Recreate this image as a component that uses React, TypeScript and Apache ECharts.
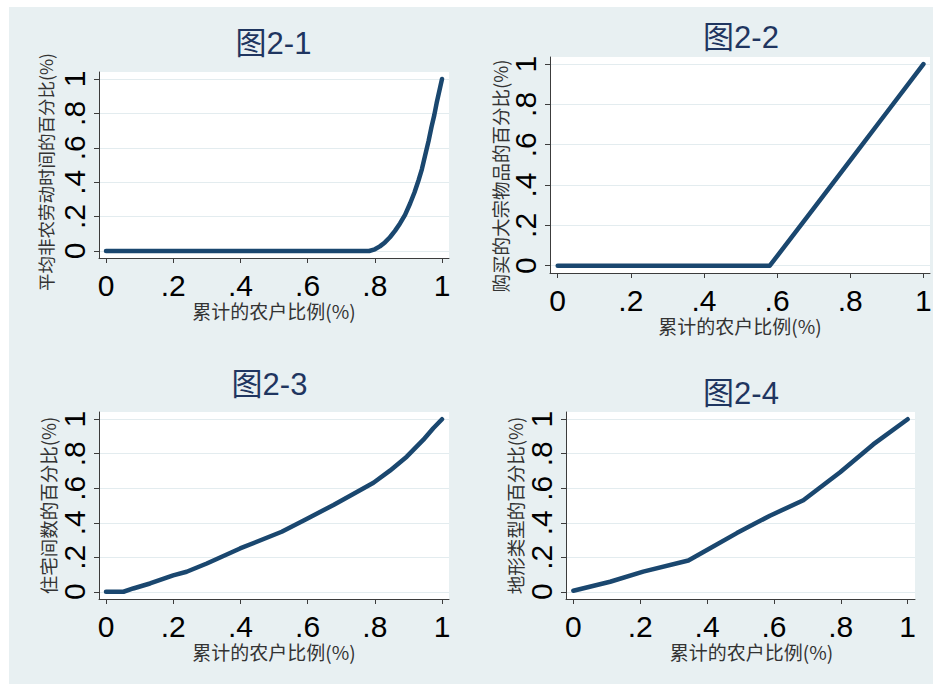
import React, { useEffect, useRef } from 'react';
import * as echarts from 'echarts';

// ---------- data ----------
const tickValues = [0, 0.2, 0.4, 0.6, 0.8, 1];
const tickLabels = ['0', '.2', '.4', '.6', '.8', '1'];
const xAxisTitle = '累计的农户比例(%)';

const titles = ['图2-1', '图2-2', '图2-3', '图2-4'];
const yAxisTitles = [
  '平均非农劳动时间的百分比(%)',
  '购买的大宗物品的百分比(%)',
  '住宅间数的百分比(%)',
  '地形类型的百分比(%)',
];

const fig1X = [0, 0.783, 0.8, 0.815, 0.83, 0.845, 0.86, 0.875, 0.89, 0.905, 0.918, 0.93, 0.94, 0.949, 0.96, 0.969, 0.977, 0.984, 0.992, 1];
const fig1Y = [0, 0, 0.01, 0.027, 0.05, 0.08, 0.117, 0.16, 0.21, 0.276, 0.34, 0.41, 0.475, 0.549, 0.64, 0.724, 0.79, 0.86, 0.93, 1];

const fig2X = [0, 0.58, 0.7, 0.8, 0.9, 1];
const fig2Y = [0, 0, 0.285, 0.522, 0.761, 1];

const fig3X = [0, 0.052, 0.081, 0.131, 0.2, 0.24, 0.3, 0.399, 0.523, 0.597, 0.677, 0.736, 0.796, 0.845, 0.895, 0.944, 0.974, 1];
const fig3Y = [0, 0, 0.019, 0.048, 0.095, 0.116, 0.164, 0.251, 0.348, 0.422, 0.503, 0.567, 0.632, 0.702, 0.783, 0.88, 0.948, 1];

const fig4X = [0, 0.11, 0.209, 0.344, 0.409, 0.489, 0.588, 0.688, 0.798, 0.897, 1];
const fig4Y = [0.006, 0.058, 0.117, 0.181, 0.252, 0.34, 0.441, 0.53, 0.693, 0.854, 1];

const seriesX = [fig1X, fig2X, fig3X, fig4X];
const seriesY = [fig1Y, fig2Y, fig3Y, fig4Y];

// ---------- layout ----------
const layouts = [
  { left: 99, top: 72, width: 350, height: 186, xMin: -0.0208, xMax: 1.0208, yMin: -0.0407, yMax: 1.0407, title: [273.5, 42], yNameSize: 17.5, yNameGap: 45, yNamePad: [0, 14, 0, 0], xNamePad: [0, 0, 0, 0] },
  { left: 550, top: 57, width: 380, height: 216, xMin: -0.021, xMax: 1.018, yMin: -0.036, yMax: 1.035, title: [741, 36], yNameSize: 18.5, yNameGap: 38, yNamePad: [0, 22, 0, 0], xNamePad: [0, 0, 0, 0] },
  { left: 99, top: 412, width: 350, height: 187, xMin: -0.0208, xMax: 1.0208, yMin: -0.042, yMax: 1.042, title: [269.5, 383], yNameSize: 18.5, yNameGap: 42, yNamePad: [0, 0, 0, 0], xNamePad: [0, 0, 0, 0] },
  { left: 566, top: 412, width: 349, height: 187, xMin: -0.022, xMax: 1.022, yMin: -0.042, yMax: 1.042, title: [741, 392], yNameSize: 18.5, yNameGap: 42, yNamePad: [0, 0, 0, 0], xNamePad: [0, 0, 0, 22] },
];

const AXIS_COLOR = '#3c3c3c';
const LINE_COLOR = '#1a476f';
const GRID_LINE = '#e3ecef';
const BG = '#e8f0f2';
const NUM_FONT = '"Liberation Sans", Arial, sans-serif';
const CJK_FONT = '"Noto Sans CJK SC", sans-serif';

function fmt(v: number): string {
  let best = 0;
  for (let i = 0; i < tickValues.length; i++) {
    if (Math.abs(tickValues[i] - v) < Math.abs(tickValues[best] - v)) best = i;
  }
  return tickLabels[best];
}

function buildOption() {
  const grid = layouts.map((l) => ({
    left: l.left,
    top: l.top,
    width: l.width,
    height: l.height,
    show: true,
    backgroundColor: '#ffffff',
    borderWidth: 0,
    containLabel: false,
    outerBoundsMode: 'none',
  }));

  const xAxis = layouts.map((l, i) => ({
    type: 'value',
    gridIndex: i,
    min: l.xMin,
    max: l.xMax,
    axisLine: { show: true, onZero: false, lineStyle: { color: AXIS_COLOR, width: 1 } },
    axisTick: { show: true, length: 5, customValues: tickValues, lineStyle: { color: AXIS_COLOR, width: 1 } },
    axisLabel: {
      customValues: tickValues,
      formatter: fmt,
      fontSize: 30,
      color: '#000',
      fontFamily: NUM_FONT,
      margin: 12,
    },
    splitLine: { show: false },
    name: xAxisTitle,
    nameLocation: 'middle',
    nameGap: 40,
    nameTextStyle: { fontSize: 19, color: '#333', fontFamily: CJK_FONT, padding: l.xNamePad },
  }));

  const yAxis = layouts.map((l, i) => ({
    type: 'value',
    gridIndex: i,
    min: l.yMin,
    max: l.yMax,
    axisLine: { show: true, onZero: false, lineStyle: { color: AXIS_COLOR, width: 1 } },
    axisTick: { show: true, length: 5, customValues: tickValues, lineStyle: { color: AXIS_COLOR, width: 1 } },
    axisLabel: {
      customValues: tickValues,
      formatter: fmt,
      fontSize: 30,
      color: '#000',
      fontFamily: NUM_FONT,
      rotate: 90,
      margin: 10,
    },
    splitLine: { show: true, lineStyle: { color: GRID_LINE, width: 1 } },
    name: yAxisTitles[i],
    nameLocation: 'middle',
    nameGap: l.yNameGap,
    nameTextStyle: { fontSize: l.yNameSize, color: '#333', fontFamily: CJK_FONT, padding: l.yNamePad },
  }));

  const series = layouts.map((_, i) => ({
    type: 'line',
    xAxisIndex: i,
    yAxisIndex: i,
    data: seriesX[i].map((x, k) => [x, seriesY[i][k]]),
    showSymbol: false,
    symbol: 'none',
    silent: true,
    lineStyle: { color: LINE_COLOR, width: 4.5, cap: 'round', join: 'round' },
  }));

  const graphic = layouts.map((l, i) => ({
    type: 'text',
    x: l.title[0],
    y: l.title[1] + 1,
    silent: true,
    style: {
      text: titles[i],
      fontSize: 31,
      fontFamily: '"Liberation Sans", Arial, "Noto Sans CJK SC", sans-serif',
      fill: '#1f3560',
      align: 'center',
      verticalAlign: 'middle',
    },
  }));

  return {
    animation: false,
    backgroundColor: 'transparent',
    grid,
    xAxis,
    yAxis,
    series,
    graphic,
  };
}

export default function App() {
  const ref = useRef<HTMLDivElement>(null);
  useEffect(() => {
    if (!ref.current) return;
    const chart = echarts.init(ref.current, undefined, { renderer: 'svg' });
    chart.setOption(buildOption() as any);
    return () => chart.dispose();
  }, []);
  return (
    <div style={{ position: 'fixed', left: 0, top: 0, width: 933, height: 685, background: '#ffffff' }}>
      <div style={{ position: 'absolute', left: 9, top: 7, width: 924, height: 677, background: BG }} />
      <div ref={ref} style={{ position: 'absolute', left: 0, top: 0, width: 933, height: 685 }} />
    </div>
  );
}
